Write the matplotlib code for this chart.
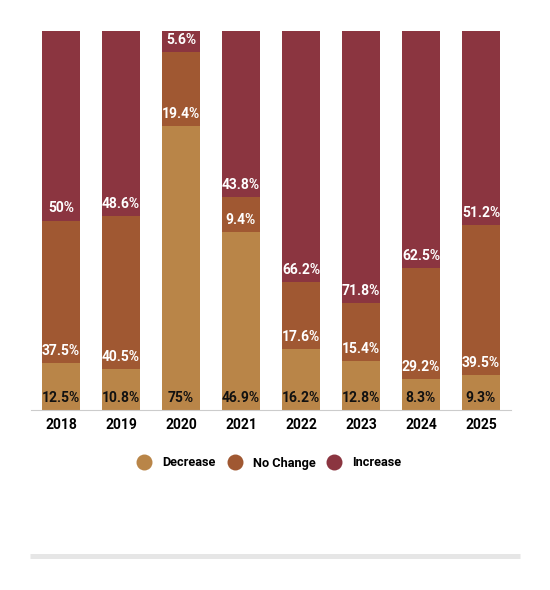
import matplotlib

matplotlib.use("Agg")
import matplotlib.pyplot as plt
from matplotlib.lines import Line2D
import numpy as np

plt.rcParams["font.family"] = ["Roboto", "DejaVu Sans"]

years = ["2018", "2019", "2020", "2021", "2022", "2023", "2024", "2025"]
decrease = [12.5, 10.8, 75, 46.9, 16.2, 12.8, 8.3, 9.3]
no_change = [37.5, 40.5, 19.4, 9.4, 17.6, 15.4, 29.2, 39.5]
increase = [50, 48.6, 5.6, 43.8, 66.2, 71.8, 62.5, 51.2]

series = [
    ("Decrease", decrease, "#b98548", "#111111"),
    ("No Change", no_change, "#a05832", "white"),
    ("Increase", increase, "#8b3540", "white"),
]

fig = plt.figure(figsize=(5.5, 5.9), dpi=100)
ax = fig.add_axes([31 / 550, 180 / 590, 480 / 550, 379 / 590])

x = np.arange(len(years))
bottom = np.zeros(len(years))
for name, vals, color, txt_color in series:
    vals = np.array(vals, dtype=float)
    ax.bar(x, vals, bottom=bottom, width=0.63, color=color, label=name, zorder=2)
    for xi, b, v in zip(x, bottom, vals):
        ax.annotate(
            f"{v:g}%",
            (xi, b),
            xytext=(0, 12),
            textcoords="offset pixels",
            ha="center",
            va="center",
            fontsize=10,
            fontweight="bold",
            color=txt_color,
            zorder=3,
        )
    bottom += vals

ax.set_xlim(-0.5, len(years) - 0.5)
ax.set_ylim(0, 100)
ax.set_xticks(x)
ax.set_xticklabels(years, fontsize=10, fontweight="bold")
ax.tick_params(axis="x", length=0, pad=6)
ax.set_yticks([])
for side in ["top", "left", "right"]:
    ax.spines[side].set_visible(False)
ax.spines["bottom"].set_color("#cccccc")

handles = [
    Line2D([], [], marker="o", linestyle="", markersize=11.5, color=c, markeredgewidth=0)
    for _, _, c, _ in series
]
fig.legend(
    handles,
    [s[0] for s in series],
    loc="center",
    bbox_to_anchor=(269 / 550, 1 - 463 / 590),
    ncol=3,
    frameon=False,
    handlelength=1.2,
    handletextpad=0.8,
    columnspacing=0.88,
    prop={"weight": "bold", "size": 9.2},
)

fig.add_artist(
    Line2D([30 / 550, 520 / 550], [1 - 556 / 590] * 2, color="#e6e6e6",
           linewidth=3.6, solid_capstyle="butt")
)

fig.savefig("out.png", dpi=100)
